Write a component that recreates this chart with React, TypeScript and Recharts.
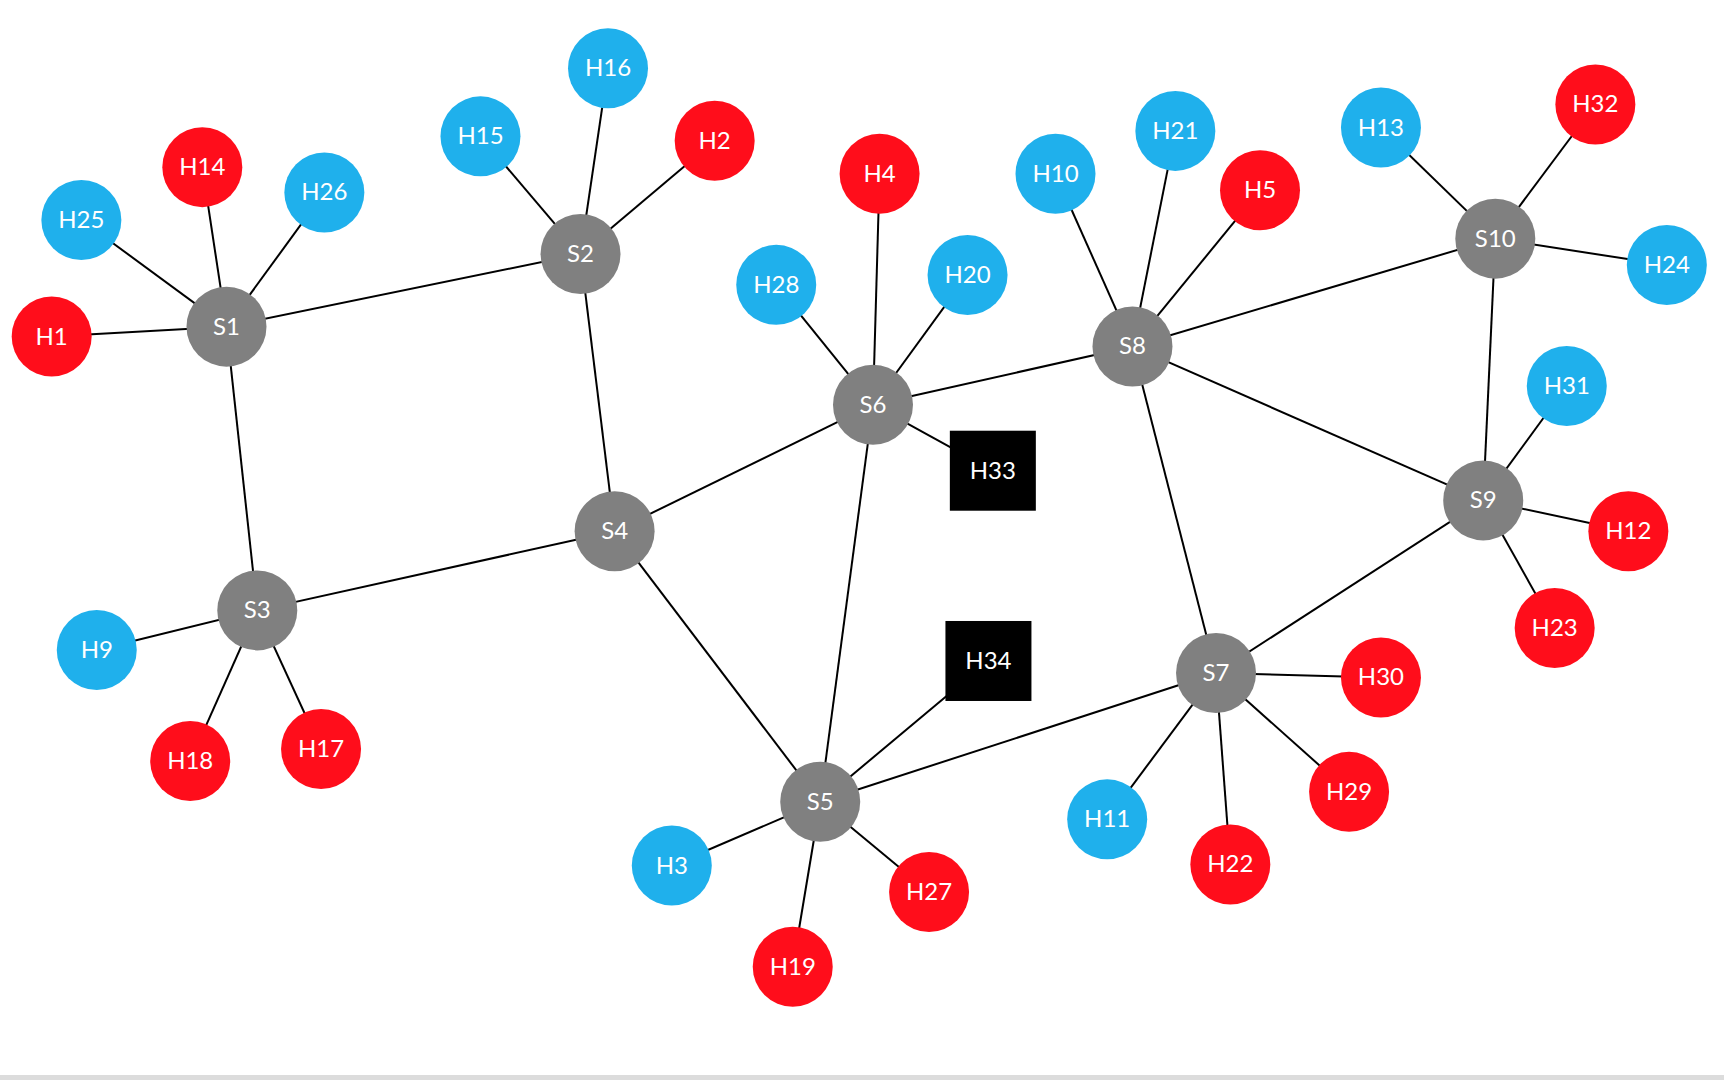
import React from "react";
import { ScatterChart, Scatter, XAxis, YAxis } from "recharts";

const nodeNames = ["S1", "S2", "S3", "S4", "S5", "S6", "S7", "S8", "S9", "S10",
  "H1", "H14", "H25", "H26", "H15", "H16", "H2", "H9", "H18", "H17",
  "H4", "H28", "H20", "H33", "H34", "H3", "H19", "H27", "H10", "H21", "H5",
  "H13", "H32", "H24", "H31", "H12", "H23", "H30", "H29", "H22", "H11"];
const nodeX = [206, 528, 234, 559, 746, 794, 1106, 1030, 1349, 1360,
  47, 184, 74, 295, 437, 553, 650, 88, 173, 292,
  800, 706, 880, 903, 899, 611, 721, 845, 960, 1069, 1146,
  1256, 1451, 1516, 1425, 1481, 1414, 1256, 1227, 1119, 1007];
const nodeY = [297, 231, 555, 483, 729, 368, 612, 315, 455, 217,
  306, 152, 200, 175, 124, 62, 128, 591, 692, 681,
  158, 259, 250, 428, 601, 787, 879, 811, 158, 119, 173,
  116, 95, 241, 351, 483, 571, 616, 720, 786, 745];
const nodeKind = ["switch", "switch", "switch", "switch", "switch", "switch", "switch", "switch", "switch", "switch",
  "red", "red", "blue", "blue", "blue", "blue", "red", "blue", "red", "red",
  "red", "blue", "blue", "server", "server", "blue", "red", "red", "blue", "blue", "red",
  "blue", "red", "blue", "blue", "red", "red", "red", "red", "red", "blue"];

const edges: [string, string][] = [
  ["S1", "S2"], ["S1", "S3"], ["S2", "S4"], ["S3", "S4"], ["S4", "S6"], ["S4", "S5"],
  ["S6", "S8"], ["S6", "S5"], ["S5", "S7"], ["S8", "S7"], ["S8", "S10"], ["S8", "S9"],
  ["S10", "S9"], ["S9", "S7"],
  ["H1", "S1"], ["H14", "S1"], ["H25", "S1"], ["H26", "S1"],
  ["H15", "S2"], ["H16", "S2"], ["H2", "S2"],
  ["H9", "S3"], ["H18", "S3"], ["H17", "S3"],
  ["H4", "S6"], ["H28", "S6"], ["H20", "S6"], ["H33", "S6"],
  ["H34", "S5"], ["H3", "S5"], ["H19", "S5"], ["H27", "S5"],
  ["H10", "S8"], ["H21", "S8"], ["H5", "S8"],
  ["H13", "S10"], ["H32", "S10"], ["H24", "S10"],
  ["H31", "S9"], ["H12", "S9"], ["H23", "S9"],
  ["H30", "S7"], ["H29", "S7"], ["H22", "S7"], ["H11", "S7"],
];

const colors: Record<string, string> = { switch: "#808080", red: "#ff0d1b", blue: "#1fb0ec", server: "#000000" };

const nodes = nodeNames.map((name, i) => ({ name, x: nodeX[i], y: nodeY[i], kind: nodeKind[i] }));
const byName = Object.fromEntries(nodes.map((n) => [n.name, n]));

const Node = (props: any) => {
  const { cx, cy, payload } = props;
  const fill = colors[payload.kind];
  return (
    <g>
      {payload.kind === "server" ? (
        <rect x={cx - 43} y={cy - 40} width={86} height={80} fill={fill} />
      ) : (
        <circle cx={cx} cy={cy} r={40} fill={fill} />
      )}
      <text x={cx} y={cy} dy={8} textAnchor="middle" fill="#fff" fontSize={24} fontFamily="Lato, 'Open Sans', sans-serif">
        {payload.name}
      </text>
    </g>
  );
};

export default function App() {
  return (
    <div style={{ position: "absolute", left: 0, top: 0, width: 1724, height: 1080, background: "#fff" }}>
      <ScatterChart width={1724} height={1080} margin={{ top: 0, right: 0, bottom: 0, left: 0 }}>
        <XAxis type="number" dataKey="x" domain={[0, 1568]} hide />
        <YAxis type="number" dataKey="y" domain={[0, 982]} reversed hide />
        {edges.map(([a, b], i) => (
          <Scatter
            key={`e-${i}`}
            data={[byName[a], byName[b]]}
            line={{ stroke: "#000", strokeWidth: 2 }}
            shape={() => <g />}
            isAnimationActive={false}
          />
        ))}
        <Scatter data={nodes} shape={Node} isAnimationActive={false} />
      </ScatterChart>
      <div style={{ position: "absolute", left: 0, top: 1075, width: 1724, height: 5, background: "#dcdcdc" }} />
    </div>
  );
}
